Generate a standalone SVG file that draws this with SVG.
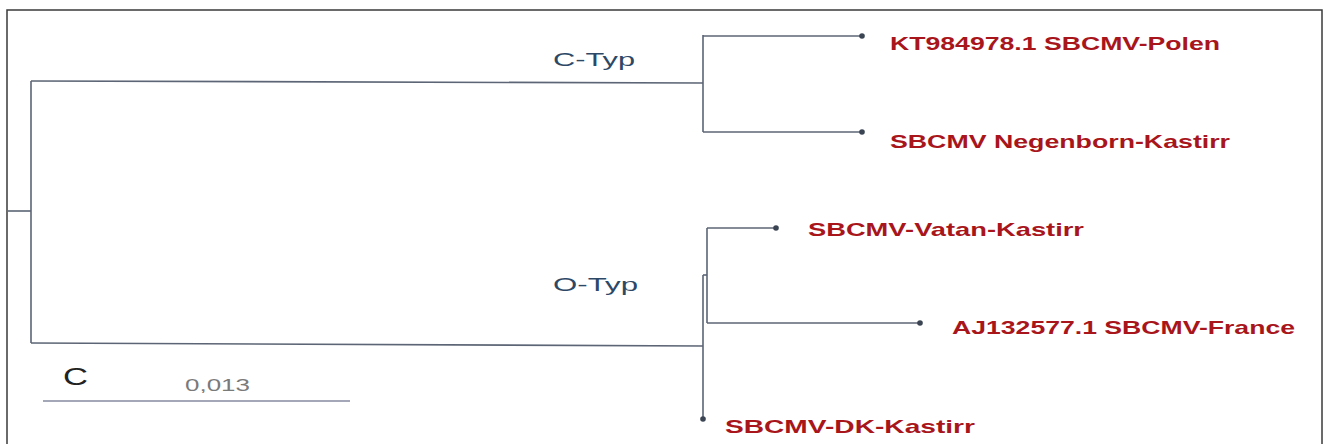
<svg xmlns="http://www.w3.org/2000/svg" width="1330" height="444" viewBox="0 0 1330 444">
<defs>
<style>
.frame{fill:#ffffff;stroke:#3a3a3a;stroke-width:1.5}
.br{fill:none;stroke:#5c6575;stroke-width:1.6}
.dot{fill:#3a4452}
.leaf{font-family:"Liberation Sans",Arial,sans-serif;font-weight:bold;font-size:19px;fill:#a8161c}
.clade{font-family:"Liberation Sans",Arial,sans-serif;font-size:19px;fill:#2d4866}
.scale{fill:none;stroke:#a3a7b8;stroke-width:2}
.sc{font-family:"Liberation Sans",Arial,sans-serif;fill:#7a7a7a;font-size:17px}
.cl{font-family:"Liberation Sans",Arial,sans-serif;fill:#222;font-size:23px}
</style>
</defs>
<rect class="frame" x="7" y="10" width="1315" height="445"/>
<g id="connectors">
<path class="br" d="M8,211 H31"/>
<path class="br" d="M31,81 V343"/>
<path class="br" d="M31,81 L703,83"/>
<path class="br" d="M31,343 L703,346"/>
<path class="br" d="M703,35 V132"/>
<path class="br" d="M703,36 H862"/>
<path class="br" d="M703,132 H862"/>
<path class="br" d="M703,275 V419"/>
<path class="br" d="M703,275 H707"/>
<path class="br" d="M707,228 V323"/>
<path class="br" d="M707,228 H776"/>
<path class="br" d="M707,323 H920"/>
</g>
<g id="clade-C"><text class="clade" x="553" y="66" textLength="82" lengthAdjust="spacingAndGlyphs">C-Typ</text></g>
<g id="clade-O"><text class="clade" x="553" y="291" textLength="85" lengthAdjust="spacingAndGlyphs">O-Typ</text></g>
<g id="leaf-polen"><circle class="dot" cx="862" cy="36" r="2.8"/><text class="leaf" x="890" y="50" textLength="330" lengthAdjust="spacingAndGlyphs">KT984978.1 SBCMV-Polen</text></g>
<g id="leaf-negenborn"><circle class="dot" cx="862" cy="132" r="2.8"/><text class="leaf" x="890" y="148" textLength="340" lengthAdjust="spacingAndGlyphs">SBCMV Negenborn-Kastirr</text></g>
<g id="leaf-vatan"><circle class="dot" cx="776" cy="228" r="2.8"/><text class="leaf" x="808" y="236" textLength="276" lengthAdjust="spacingAndGlyphs">SBCMV-Vatan-Kastirr</text></g>
<g id="leaf-france"><circle class="dot" cx="920" cy="323" r="2.8"/><text class="leaf" x="952" y="334" textLength="343" lengthAdjust="spacingAndGlyphs">AJ132577.1 SBCMV-France</text></g>
<g id="leaf-dk"><circle class="dot" cx="703" cy="419" r="2.8"/><text class="leaf" x="725" y="433" textLength="250" lengthAdjust="spacingAndGlyphs">SBCMV-DK-Kastirr</text></g>
<g id="scalebar">
<text class="cl" x="63" y="385" textLength="25" lengthAdjust="spacingAndGlyphs">C</text>
<text class="sc" x="185" y="391" textLength="65" lengthAdjust="spacingAndGlyphs">0,013</text>
<path class="scale" d="M43,401 H350"/>
</g>
</svg>
